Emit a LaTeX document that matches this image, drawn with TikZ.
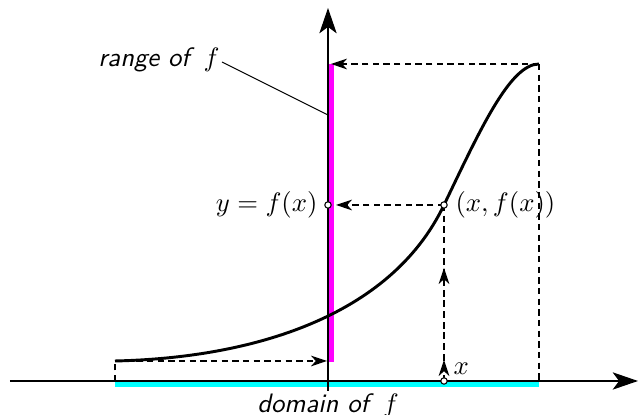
\documentclass[tikz,border=0pt]{standalone}
\usetikzlibrary{arrows.meta}
\definecolor{barcyan}{RGB}{0,255,255}
\definecolor{barmag}{RGB}{255,0,255}
\begin{document}
\begin{tikzpicture}[x=0.375pt,y=-0.375pt,
  axis/.style={line width=0.5pt,-{Stealth[length=9.5pt,width=6.5pt,inset=2.4pt]}},
  guide/.style={line width=0.5pt,dash pattern=on 2.4pt off 1.6pt},
  guidearrow/.style={guide,-{Stealth[length=6pt,width=4pt,inset=1.8pt]}},
  dot/.style={circle,draw,fill=white,line width=0.4pt,inner sep=0pt,minimum size=2.4pt},
  lbl/.style={inner sep=0pt}]
\useasboundingbox (0,0) rectangle (638,415);
% coordinates
\coordinate (O) at (328,381);
\coordinate (xl) at (10,381);
\coordinate (xr) at (638,381);
\coordinate (yb) at (328,391);
\coordinate (yt) at (328,8);
\coordinate (A) at (115,361);
\coordinate (Ax) at (115,381);
\coordinate (B) at (539,64);
\coordinate (Bx) at (539,381);
\coordinate (P) at (444,205);
\coordinate (Px) at (444,381);
\coordinate (Q) at (328,205);
\coordinate (Qa) at (336,205);
\coordinate (Ba) at (331,64);
\coordinate (Aa) at (327,361);
\coordinate (m1) at (444,360);
\coordinate (m2) at (444,268);
\coordinate (rt) at (328,115);
% bars
\draw[barcyan,line width=2.6pt] (115,383.8) -- (539,383.8);
\draw[barmag,line width=2.6pt] (331,64) -- (331,362);
% axes
\draw[axis] (xl) -- (xr);
\draw[axis] (yb) -- (yt);
% curve
\draw[line width=1.1pt] (A) .. controls (250,358) and (390,318) .. (P)
  .. controls (480,130) and (510,64) .. (B);
% guides
\draw[guidearrow] (B) -- (Ba);
\draw[guide] (B) -- (Bx);
\draw[guidearrow] (P) -- (Qa);
\draw[guide] (P) -- (Px);
\draw[guidearrow] (Px) -- (m1);
\draw[guidearrow] (m1) -- (m2);
\draw[guide] (Ax) -- (A);
\draw[guidearrow] (A) -- (Aa);
% dots
\node[dot] (dq) at (Q) {};
\node[dot] (dp) at (P) {};
\node[dot] (dx) at (Px) {};
% labels
\node[lbl,anchor=east] (ly) at (318,205) {$y=f(x)$};
\node[lbl,anchor=west] (lp) at (455,205) {$(x,f(x))$};
\node[lbl,anchor=west] (lx) at (453,369) {$x$};
\node[lbl,anchor=east] (range) at (220,60) {\textsf{\textit{range of}} $f$};
\draw[line width=0.4pt] (222,62) -- (rt);
\node[lbl] (domain) at (328,406) {\textsf{\textit{domain of}} $f$};
\end{tikzpicture}
\end{document}
